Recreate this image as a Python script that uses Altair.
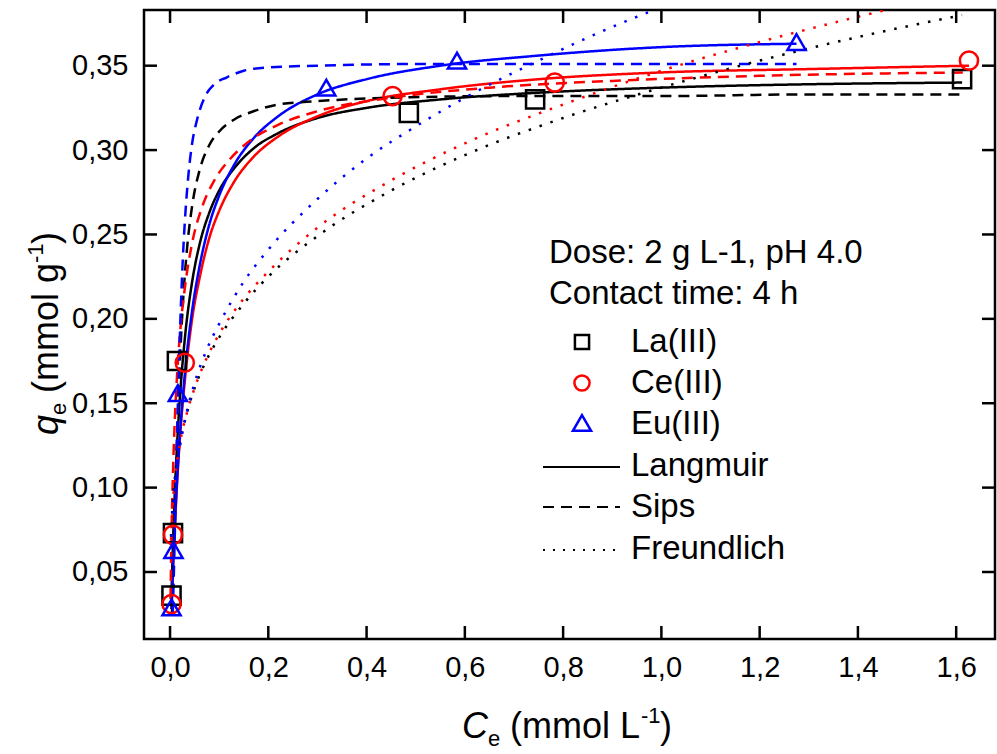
import altair as alt
import pandas as pd

# ---------------- data ----------------
# experimental points (C_e in mmol/L, q_e in mmol/g)
la_c = [0.003, 0.006, 0.014, 0.486, 0.743, 1.612]
la_q = [0.036, 0.073, 0.175, 0.322, 0.330, 0.342]
ce_c = [0.003, 0.006, 0.030, 0.453, 0.783, 1.626]
ce_q = [0.031, 0.072, 0.174, 0.332, 0.340, 0.353]
eu_c = [0.003, 0.007, 0.016, 0.318, 0.584, 1.275]
eu_q = [0.029, 0.063, 0.156, 0.337, 0.353, 0.364]

# Langmuir fits (solid)
lang_la_c = [0.003, 0.005, 0.007, 0.01, 0.015, 0.02, 0.03, 0.045, 0.06, 0.08, 0.1, 0.13, 0.17, 0.22, 0.3, 0.4, 0.55, 0.75, 1.0, 1.3, 1.612]
lang_la_q = [0.037, 0.058, 0.076, 0.099, 0.129, 0.153, 0.188, 0.222, 0.244, 0.263, 0.276, 0.289, 0.301, 0.310, 0.319, 0.325, 0.330, 0.334, 0.337, 0.339, 0.340]
lang_ce_c = [0.003, 0.005, 0.007, 0.01, 0.015, 0.02, 0.03, 0.045, 0.06, 0.08, 0.1, 0.13, 0.17, 0.22, 0.3, 0.4, 0.55, 0.75, 1.0, 1.3, 1.626]
lang_ce_q = [0.028, 0.044, 0.059, 0.078, 0.106, 0.129, 0.163, 0.200, 0.224, 0.248, 0.264, 0.281, 0.296, 0.308, 0.320, 0.329, 0.336, 0.342, 0.346, 0.348, 0.350]
lang_eu_c = [0.003, 0.005, 0.007, 0.01, 0.015, 0.02, 0.03, 0.045, 0.06, 0.08, 0.1, 0.13, 0.17, 0.22, 0.3, 0.4, 0.55, 0.75, 1.0, 1.275]
lang_eu_q = [0.028, 0.044, 0.060, 0.080, 0.108, 0.131, 0.167, 0.205, 0.231, 0.256, 0.273, 0.291, 0.307, 0.320, 0.333, 0.342, 0.350, 0.356, 0.361, 0.363]

# Sips fits (dashed)
sips_la_c = [0.004, 0.007, 0.01, 0.015, 0.02, 0.027, 0.035, 0.045, 0.06, 0.08, 0.1, 0.13, 0.17, 0.22, 0.3, 0.45, 0.7, 1.0, 1.3, 1.612]
sips_la_q = [0.026, 0.057, 0.089, 0.136, 0.174, 0.213, 0.243, 0.267, 0.288, 0.303, 0.311, 0.318, 0.323, 0.327, 0.329, 0.331, 0.332, 0.332, 0.333, 0.333]
sips_ce_c = [0.001, 0.003, 0.006, 0.01, 0.015, 0.022, 0.03, 0.045, 0.065, 0.09, 0.12, 0.16, 0.22, 0.3, 0.45, 0.65, 0.9, 1.2, 1.626]
sips_ce_q = [0.034, 0.072, 0.109, 0.142, 0.170, 0.197, 0.218, 0.245, 0.266, 0.282, 0.294, 0.305, 0.315, 0.323, 0.331, 0.337, 0.341, 0.344, 0.346]
sips_eu_c = [0.0055, 0.007, 0.01, 0.013, 0.016, 0.02, 0.025, 0.03, 0.037, 0.045, 0.055, 0.07, 0.09, 0.115, 0.15, 0.2, 0.3, 0.5, 0.8, 1.275]
sips_eu_q = [0.026, 0.041, 0.076, 0.113, 0.149, 0.190, 0.229, 0.257, 0.284, 0.304, 0.318, 0.331, 0.339, 0.343, 0.347, 0.349, 0.350, 0.351, 0.351, 0.351]

# Freundlich fits (dotted)
fr_la_c = [0.002, 0.005, 0.01, 0.02, 0.035, 0.05, 0.075, 0.1, 0.15, 0.2, 0.3, 0.45, 0.6, 0.8, 1.0, 1.2, 1.4, 1.612]
fr_la_q = [0.071, 0.089, 0.106, 0.126, 0.145, 0.159, 0.176, 0.189, 0.209, 0.225, 0.249, 0.276, 0.297, 0.319, 0.337, 0.353, 0.367, 0.380]
fr_ce_c = [0.002, 0.005, 0.01, 0.02, 0.035, 0.05, 0.075, 0.1, 0.15, 0.2, 0.3, 0.45, 0.6, 0.8, 1.0, 1.2, 1.4, 1.626]
fr_ce_q = [0.069, 0.088, 0.105, 0.126, 0.145, 0.159, 0.177, 0.191, 0.212, 0.228, 0.254, 0.282, 0.304, 0.327, 0.347, 0.364, 0.379, 0.394]
fr_eu_c = [0.002, 0.005, 0.01, 0.02, 0.035, 0.05, 0.075, 0.1, 0.15, 0.2, 0.3, 0.4, 0.5, 0.6, 0.75, 0.9, 1.05, 1.275]
fr_eu_q = [0.064, 0.083, 0.102, 0.124, 0.146, 0.162, 0.182, 0.197, 0.222, 0.241, 0.271, 0.295, 0.314, 0.331, 0.353, 0.373, 0.390, 0.412]

elements = ["La(III)", "Ce(III)", "Eu(III)"]
colors = ["#000000", "#ff0000", "#0000ff"]
models = ["Langmuir", "Sips", "Freundlich"]
x_ticks = [0.0, 0.2, 0.4, 0.6, 0.8, 1.0, 1.2, 1.4, 1.6]
y_ticks = [0.05, 0.10, 0.15, 0.20, 0.25, 0.30, 0.35]

# ---------------- tables ----------------
pts = pd.concat([
    pd.DataFrame({"C": la_c, "q": la_q, "el": elements[0]}),
    pd.DataFrame({"C": ce_c, "q": ce_q, "el": elements[1]}),
    pd.DataFrame({"C": eu_c, "q": eu_q, "el": elements[2]}),
])

curve_sets = [
    (elements[0], "Langmuir", lang_la_c, lang_la_q),
    (elements[1], "Langmuir", lang_ce_c, lang_ce_q),
    (elements[2], "Langmuir", lang_eu_c, lang_eu_q),
    (elements[0], "Sips", sips_la_c, sips_la_q),
    (elements[1], "Sips", sips_ce_c, sips_ce_q),
    (elements[2], "Sips", sips_eu_c, sips_eu_q),
    (elements[0], "Freundlich", fr_la_c, fr_la_q),
    (elements[1], "Freundlich", fr_ce_c, fr_ce_q),
    (elements[2], "Freundlich", fr_eu_c, fr_eu_q),
]
curves = pd.concat([
    pd.DataFrame({"C": c, "q": q, "el": e, "model": m, "series": e + m})
    for e, m, c, q in curve_sets
])

# ---------------- layout ----------------
W, H = 851, 629
FONT = "Liberation Sans"
TICK = 13
LW = 2.5

xscale = alt.Scale(domain=[-0.053, 1.679], nice=False, zero=False)
yscale = alt.Scale(domain=[0.0103, 0.383], nice=False, zero=False)
xaxis = alt.Axis(values=x_ticks, labelExpr="replace(format(datum.value, '.1f'), '.', ',')",
                 ticks=False, domain=False, grid=False, title=None,
                 labelFont=FONT, labelFontSize=29, labelColor="black", labelPadding=14)
yaxis = alt.Axis(values=y_ticks, labelExpr="replace(format(datum.value, '.2f'), '.', ',')",
                 ticks=False, domain=False, grid=False, title=None,
                 labelFont=FONT, labelFontSize=29, labelColor="black", labelPadding=16)

color_scale = alt.Scale(domain=elements, range=colors)
dash_scale = alt.Scale(domain=models, range=[[1, 0], [11, 7], [2.5, 9]])

lines = alt.Chart(curves).mark_line(clip=True, strokeWidth=LW, interpolate="monotone").encode(
    x=alt.X("C:Q", scale=xscale, axis=xaxis),
    y=alt.Y("q:Q", scale=yscale, axis=yaxis),
    color=alt.Color("el:N", scale=color_scale, legend=None),
    strokeDash=alt.StrokeDash("model:N", scale=dash_scale, legend=None),
    detail="series:N",
)

points = alt.Chart(pts).mark_point(filled=False, strokeWidth=LW, opacity=1).encode(
    x=alt.X("C:Q", scale=xscale, axis=xaxis),
    y=alt.Y("q:Q", scale=yscale, axis=yaxis),
    color=alt.Color("el:N", scale=color_scale, legend=None),
    shape=alt.Shape("el:N", scale=alt.Scale(domain=elements, range=["square", "circle", "triangle-up"]), legend=None),
    size=alt.Size("el:N", scale=alt.Scale(domain=elements, range=[330, 330, 460]), legend=None),
)

xt = pd.DataFrame({"v": x_ticks})
yt = pd.DataFrame({"v": y_ticks})
tick_bottom = alt.Chart(xt).mark_rule(color="black", strokeWidth=LW).encode(
    x=alt.X("v:Q", scale=xscale, axis=xaxis), y=alt.value(H), y2=alt.value(H - TICK))
tick_top = alt.Chart(xt).mark_rule(color="black", strokeWidth=LW).encode(
    x=alt.X("v:Q", scale=xscale, axis=xaxis), y=alt.value(0), y2=alt.value(TICK))
tick_left = alt.Chart(yt).mark_rule(color="black", strokeWidth=LW).encode(
    y=alt.Y("v:Q", scale=yscale, axis=yaxis), x=alt.value(0), x2=alt.value(TICK))
tick_right = alt.Chart(yt).mark_rule(color="black", strokeWidth=LW).encode(
    y=alt.Y("v:Q", scale=yscale, axis=yaxis), x=alt.value(W), x2=alt.value(W - TICK))

one = pd.DataFrame({"d": [0]})


def txt(s, x, y, size=33, angle=0, style="normal"):
    return alt.Chart(one).mark_text(
        text=s, font=FONT, fontSize=size, fontStyle=style, color="black",
        align="left", baseline="alphabetic", angle=angle,
    ).encode(x=alt.value(x), y=alt.value(y))


# legend / annotation
LEG_FS = 33
annot = [
    txt("Dose: 2 g L-1, pH 4.0", 405, 253, LEG_FS),
    txt("Contact time: 4 h", 405, 294, LEG_FS),
    txt(elements[0], 487, 342, LEG_FS),
    txt(elements[1], 487, 383, LEG_FS),
    txt(elements[2], 487, 424, LEG_FS),
    txt(models[0], 487, 466, LEG_FS),
    txt(models[1], 487, 507, LEG_FS),
    txt(models[2], 487, 549, LEG_FS),
]

leg_sym = []
for e, col, shp, sz, yy in zip(elements, colors, ["square", "circle", "triangle-up"], [200, 230, 330], [332, 373, 413]):
    leg_sym.append(alt.Chart(one).mark_point(filled=False, strokeWidth=LW, shape=shp, size=sz, color=col, opacity=1)
                   .encode(x=alt.value(438), y=alt.value(yy)))
for m, dash, yy in zip(models, [[1, 0], [11, 7], [2, 8]], [457, 497, 540]):
    leg_sym.append(alt.Chart(one).mark_rule(color="black", strokeWidth=2.2, strokeDash=dash)
                   .encode(x=alt.value(399), x2=alt.value(476), y=alt.value(yy)))

# axis titles built from pieces (italic symbol, subscript, superscript)
TF, SF = 36, 22
x0 = 318
xb = 728
xtitle = [
    txt("C", x0, xb, TF, style="italic"),
    txt("e", x0 + 26, xb + 8, SF),
    txt("(mmol L", x0 + 48, xb, TF),
    txt("-1", x0 + 179, xb - 15, SF),
    txt(")", x0 + 198, xb, TF),
]
yb = -86
y0 = 425
ytitle = [
    txt("q", yb, y0, TF, angle=270, style="italic"),
    txt("e", yb + 8, y0 - 20, SF, angle=270),
    txt("(mmol g", yb, y0 - 42, TF, angle=270),
    txt("-1", yb - 15, y0 - 172, SF, angle=270),
    txt(")", yb, y0 - 191, TF, angle=270),
]

chart = alt.layer(
    lines, points, tick_bottom, tick_top, tick_left, tick_right, *annot, *leg_sym, *xtitle, *ytitle
).properties(
    width=W, height=H,
    padding={"left": 144, "top": 10, "right": 2, "bottom": 115},
    autosize=alt.AutoSizeParams(type="none"),
    background="white",
).configure_view(stroke="black", strokeWidth=LW)

chart.save("out.html", embed_options={"renderer": "svg", "actions": False})
